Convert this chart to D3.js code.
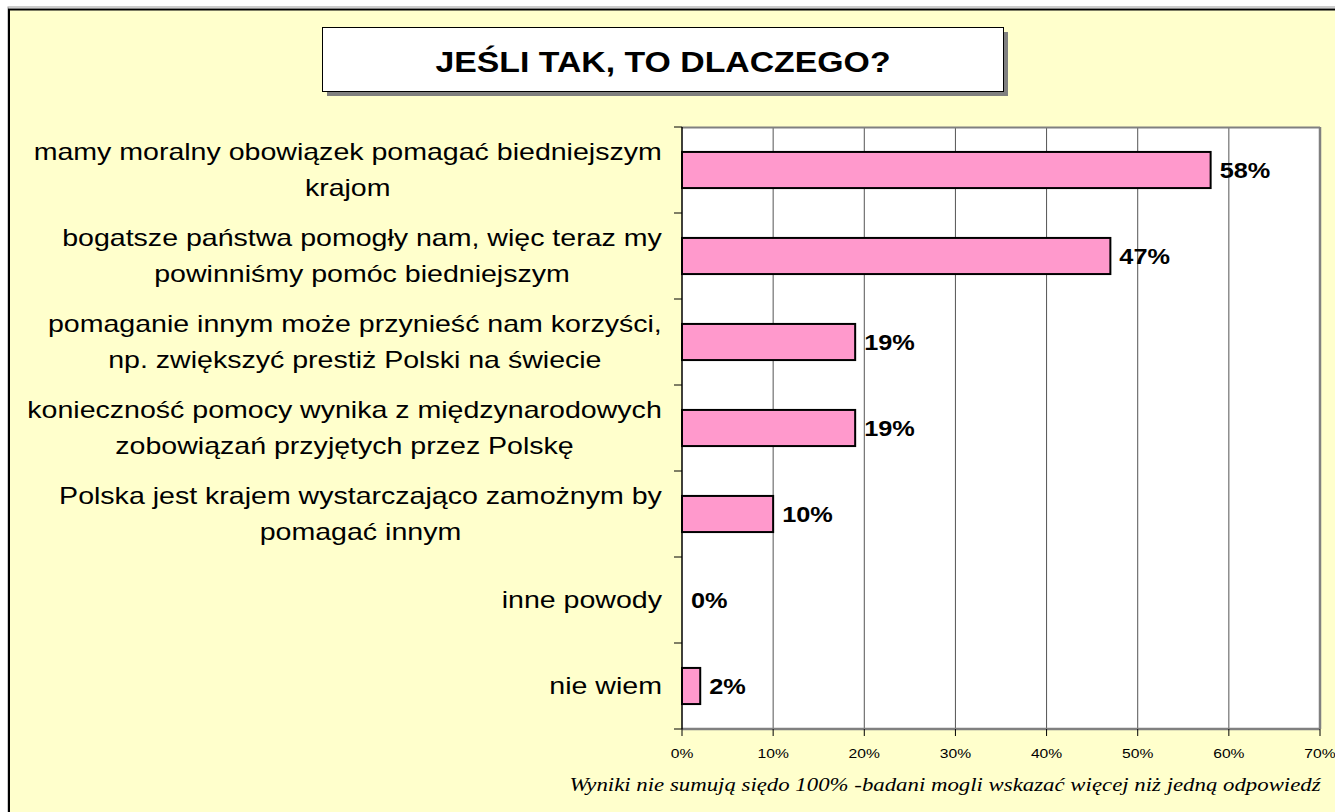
<!DOCTYPE html>
<html>
<head>
<meta charset="utf-8">
<script src="https://cdn.jsdelivr.net/npm/d3@7"></script>
<style>
body{margin:0;background:#fff;}
svg{display:block;}
</style>
</head>
<body>
<div id="chart"></div>
<script>
var categories = [
	["mamy moralny obowiązek pomagać biedniejszym","krajom"],
	["bogatsze państwa pomogły nam, więc teraz my","powinniśmy pomóc biedniejszym"],
	["pomaganie innym może przynieść nam korzyści,","np. zwiększyć prestiż Polski na świecie"],
	["konieczność pomocy wynika z międzynarodowych","zobowiązań przyjętych przez Polskę"],
	["Polska jest krajem wystarczająco zamożnym by","pomagać innym"],
	["inne powody"],
	["nie wiem"]
];
var values = [58, 47, 19, 19, 10, 0, 2];
var xTicks = [0, 10, 20, 30, 40, 50, 60, 70];
var title = "JEŚLI TAK, TO DLACZEGO?";
var footnote = "Wyniki nie sumują siędo 100% -badani mogli wskazać więcej niż jedną odpowiedź";

var W = 1335, H = 812;
var margin = {l:682, r:15, t:127, b:83};
var sans = "'Liberation Sans', Arial, sans-serif";

var svg = d3.select("#chart").append("svg")
	.attr("width", W).attr("height", H);

// the original is a little stretched sideways
function at(x,y,k){ return "translate("+x+","+y+") scale("+k+",1)"; }

// outer frame
svg.append("rect").attr("x",8).attr("y",7).attr("width",W).attr("height",H)
	.style("fill","none").style("stroke","#999").style("stroke-width",1);
svg.append("rect").attr("x",9).attr("y",9.5).attr("width",W).attr("height",H)
	.style("fill","#FFFFCC").style("stroke","#000").style("stroke-width",2);

// title box with shadow
svg.append("rect").attr("x",327).attr("y",32).attr("width",681).attr("height",64)
	.style("fill","#808080");
svg.append("rect").attr("x",322.5).attr("y",27.5).attr("width",681).attr("height",64)
	.style("fill","#fff").style("stroke","#000").style("stroke-width",1);
svg.append("text").attr("transform",at(663,72,1.127))
	.attr("text-anchor","middle")
	.style("font-family",sans)
	.style("font-weight","bold").style("font-size","30px")
	.text(title);

var X = d3.scaleLinear().domain([0,70]).range([margin.l, W-margin.r]);
var Y = d3.scaleBand().domain(d3.range(categories.length))
	.range([margin.t, H-margin.b]).paddingInner(0.58).paddingOuter(0.29);

var y0 = margin.t, y1 = H-margin.b;

// plot area
svg.append("rect").attr("x",X(0)).attr("y",y0).attr("width",X(70)-X(0)).attr("height",y1-y0)
	.style("fill","#fff");

// gridlines
svg.selectAll(".grid").data(xTicks.slice(1)).enter().append("line")
	.attr("class","grid")
	.attr("x1",function(d){return X(d)}).attr("x2",function(d){return X(d)})
	.attr("y1",y0).attr("y2",y1)
	.style("stroke","#555").style("stroke-width",1);

// plot border (gray)
svg.append("line").attr("x1",X(0)).attr("x2",X(70)).attr("y1",y0+0.5).attr("y2",y0+0.5)
	.style("stroke","#808080").style("stroke-width",2);
svg.append("line").attr("x1",X(70)).attr("x2",X(70)).attr("y1",y0).attr("y2",y1)
	.style("stroke","#808080").style("stroke-width",2.5);
svg.append("line").attr("x1",X(0)).attr("x2",X(70)).attr("y1",y1).attr("y2",y1)
	.style("stroke","#808080").style("stroke-width",2.5);

// bars
svg.selectAll(".bar").data(values).enter().append("rect")
	.attr("class","bar")
	.attr("x",X(0))
	.attr("y",function(d,i){return Y(i)})
	.attr("width",function(d){return X(d)-X(0)})
	.attr("height",Y.bandwidth())
	.style("fill","#FF99CC")
	.style("stroke",function(d){return d>0?"#000":"none"})
	.style("stroke-width",2);

// value labels
svg.selectAll(".val").data(values).enter().append("text")
	.attr("class","val")
	.attr("transform",function(d,i){return at(X(d)+9, Y(i)+Y.bandwidth()/2+8, 1.15)})
	.style("font-family",sans)
	.style("font-weight","bold").style("font-size","22px")
	.text(function(d){return d+"%"});

// x axis ticks
svg.selectAll(".xtick").data(xTicks).enter().append("line")
	.attr("class","xtick")
	.attr("x1",function(d){return X(d)}).attr("x2",function(d){return X(d)})
	.attr("y1",y1).attr("y2",y1+7)
	.style("stroke","#000");
svg.selectAll(".xlab").data(xTicks).enter().append("text")
	.attr("class","xlab")
	.attr("transform",function(d){return at(X(d),758,1.16)})
	.attr("text-anchor","middle")
	.style("font-family",sans).style("font-size","13.5px")
	.text(function(d){return d+"%"});

// category axis
var step = (y1-y0)/categories.length;
svg.append("line").attr("x1",X(0)).attr("x2",X(0)).attr("y1",y0).attr("y2",y1)
	.style("stroke","#000").style("stroke-width",1.5);
svg.selectAll(".ytick").data(d3.range(categories.length+1)).enter().append("line")
	.attr("class","ytick")
	.attr("x1",X(0)-8).attr("x2",X(0))
	.attr("y1",function(d){return y0+d*step}).attr("y2",function(d){return y0+d*step})
	.style("stroke","#000").style("stroke-width",1);

// category labels, centred lines, block right-aligned
var lineH = 36, ks = 1.19;
svg.selectAll(".cat").data(categories).enter().append("text")
	.attr("class","cat")
	.style("font-family",sans)
	.style("font-size","24px").style("fill","#000")
	.attr("text-anchor","middle")
	.each(function(d,i){
		var t = d3.select(this);
		var cy = Y(i)+Y.bandwidth()/2;
		var top = cy - (d.length-1)*lineH/2 + 8;
		d.forEach(function(line,j){
			t.append("tspan").attr("x",0).attr("y",j*lineH).text(line);
		});
		var wmax = 0;
		t.selectAll("tspan").each(function(){wmax=Math.max(wmax,this.getComputedTextLength())});
		t.attr("transform",at(X(0)-20-wmax*ks/2, top, ks));
	});

// footnote
svg.append("text").attr("transform",at(945,791,1.17))
	.attr("text-anchor","middle")
	.style("font-family","'Liberation Serif', 'Times New Roman', serif")
	.style("font-style","italic").style("font-size","19.5px")
	.text(footnote);
</script>
</body>
</html>
